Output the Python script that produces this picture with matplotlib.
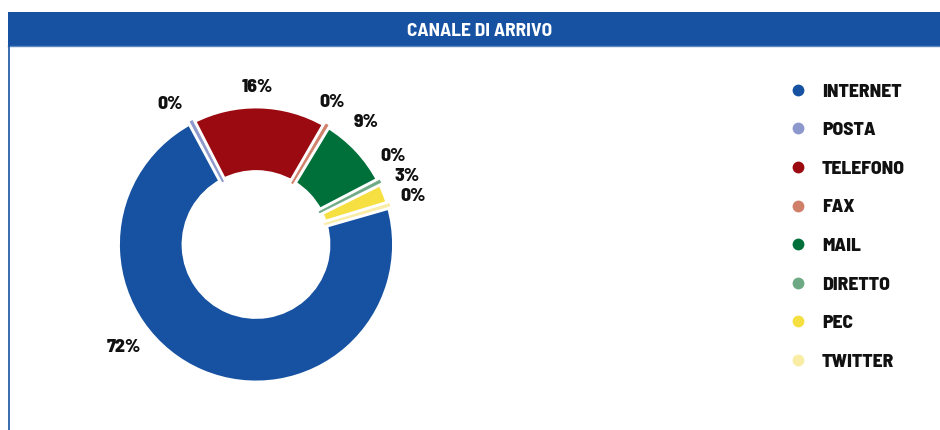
import matplotlib
matplotlib.use("Agg")
import matplotlib.pyplot as plt
from matplotlib.lines import Line2D
from matplotlib.patches import Rectangle
import numpy as np

# Incoming-request channels (share of total, %)
channels = ["INTERNET", "POSTA", "TELEFONO", "FAX", "MAIL", "DIRETTO", "PEC", "TWITTER"]
shares = [71.6, 0.3, 15.9, 0.3, 8.7, 0.3, 2.6, 0.3]
colors = ["#1652A1", "#8C97CC", "#9B0A10", "#D07F68", "#00703A", "#6DAA84", "#F6E041", "#F9EDA5"]
title = "CANALE DI ARRIVO"

# label placement around the ring (degrees, radius in units of the outer radius)
label_angle = [218, 121.5, 89.6, 62, 48, 32.7, 24.4, 17]
label_radius = [1.23, 1.21, 1.16, 1.19, 1.21, 1.20, 1.22, 1.21]

W, H = 940, 430
plt.rcParams["font.family"] = ["Barlow Semi Condensed", "DejaVu Sans"]
WEIGHT = 800

fig = plt.figure(figsize=(W / 100, H / 100), dpi=100)
fig.patch.set_facecolor("white")

# header band and left frame line
hdr = fig.add_axes([0, 0, 1, 1])
hdr.set_xlim(0, W)
hdr.set_ylim(H, 0)
hdr.axis("off")
hdr.add_patch(Rectangle((8, 12), W - 8, 34, facecolor="#1652A1", edgecolor="none"))
hdr.plot([8, W], [46, 46], color="#5B86C2", lw=1)
hdr.plot([8.5, 8.5], [46, H], color="#1652A1", lw=1.2)
hdr.text(480, 31, title, color="white", fontsize=14, fontweight="bold",
         ha="center", va="center")

# doughnut: white separators between slices, hair-thin slices drawn on top
cx, cy, half = 256, 244.5, 170
PX = 2 * half / 2.55            # pixels per data unit
SEP = 6.6                        # white separator width, px
ax = fig.add_axes([(cx - half) / W, (H - cy - half) / H, 2 * half / W, 2 * half / H])
ax.set_xlim(-1.275, 1.275)
ax.set_ylim(-1.275, 1.275)
ax.set_aspect("equal")
ax.axis("off")

outer = 1.0 + SEP / 2 / PX
inner = (73 - SEP / 2) / PX
wedges, _ = ax.pie(shares, colors=colors, startangle=16, counterclock=False,
                   radius=outer,
                   wedgeprops=dict(width=outer - inner, edgecolor="white",
                                   linewidth=SEP * 72 / 100))
total = sum(shares)
for w, v, c in zip(wedges, shares, colors):
    if 100 * v / total < 1:
        w.set_edgecolor(c)
        w.set_linewidth(0.45)
        w.set_zorder(3)

for v, a, r in zip(shares, label_angle, label_radius):
    t = np.deg2rad(a)
    ax.text(r * np.cos(t), r * np.sin(t), f"{100 * v / total:.0f}%",
            ha="center", va="center", fontsize=14, fontweight=WEIGHT, color="#111111")

# legend
handles = [Line2D([], [], marker="o", linestyle="none", markersize=8.5,
                  markerfacecolor=c, markeredgecolor="none") for c in colors]
leg = fig.legend(handles, channels, loc="upper left",
                 bbox_to_anchor=(788 / W, 1 - 83 / H), frameon=False,
                 prop=dict(size=14, weight=WEIGHT), labelspacing=1.13,
                 handlelength=1.0, handletextpad=0.75, borderaxespad=0, borderpad=0)
for t in leg.get_texts():
    t.set_color("#111111")

fig.savefig("out.png", dpi=100, facecolor="white")
